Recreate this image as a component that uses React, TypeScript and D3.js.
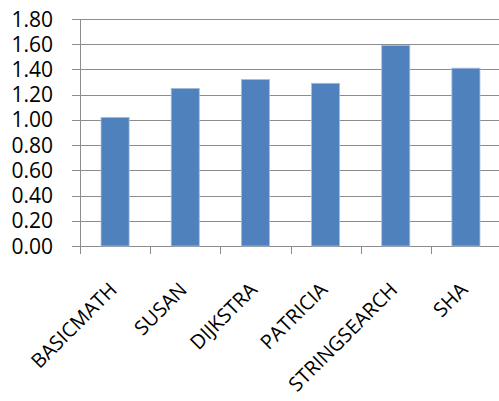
import React from "react";
import * as d3 from "d3";

const categories = ["BASICMATH", "SUSAN", "DIJKSTRA", "PATRICIA", "STRINGSEARCH", "SHA"];
const values = [1.02, 1.25, 1.32, 1.29, 1.59, 1.41];
const yTicks = [0, 0.2, 0.4, 0.6, 0.8, 1.0, 1.2, 1.4, 1.6, 1.8];

const W = 499;
const H = 401;
const left = 80;
const right = 501;
const top = 19;
const bottom = 246;

export default function App() {
  const x = d3.scaleBand<string>().domain(categories).range([left, right]).paddingInner(0.6).paddingOuter(0.3);
  const xo = d3.scaleBand<string>().domain(categories).range([left, right]);
  const y = d3.scaleLinear().domain([0, 1.8]).range([bottom, top]);
  const grid = "#8c8c8c";
  const font = "'Open Sans', sans-serif";
  return (
    <svg width={W} height={H} style={{ position: "absolute", left: 0, top: 0, background: "#fff" }}>
      {yTicks.map((t) => (
        <g key={t}>
          <line x1={left - 8} x2={499} y1={Math.round(y(t)) + 0.5} y2={Math.round(y(t)) + 0.5} stroke={grid} strokeWidth={1} />
          <text x={53} y={y(t)} dy="0.36em" textAnchor="end" fontFamily={font} fontSize={21} fill="#000">
            {t.toFixed(2)}
          </text>
        </g>
      ))}
      {values.map((v, i) => (
        <rect
          key={categories[i]}
          x={x(categories[i])!}
          y={y(v)}
          width={x.bandwidth()}
          height={bottom - y(v)}
          fill="#4f81bd"
          stroke="#a6bedd"
          strokeWidth={0.8}
        />
      ))}
      <line x1={left + 0.5} x2={left + 0.5} y1={top} y2={bottom + 8} stroke={grid} strokeWidth={1} />
      {categories.map((c) => (
        <line key={c} x1={Math.round(xo(c)!) + 0.5} x2={Math.round(xo(c)!) + 0.5} y1={bottom} y2={bottom + 8} stroke={grid} strokeWidth={1} />
      ))}
      {categories.map((c) => {
        const cx = xo(c)! + xo.bandwidth() / 2 + 3;
        const cy = bottom + 45;
        return (
          <text
            key={c}
            x={cx}
            y={cy}
            transform={`rotate(-45, ${cx}, ${cy})`}
            textAnchor="end"
            fontFamily={font}
            fontSize={20}
            fill="#000"
          >
            {c}
          </text>
        );
      })}
    </svg>
  );
}
